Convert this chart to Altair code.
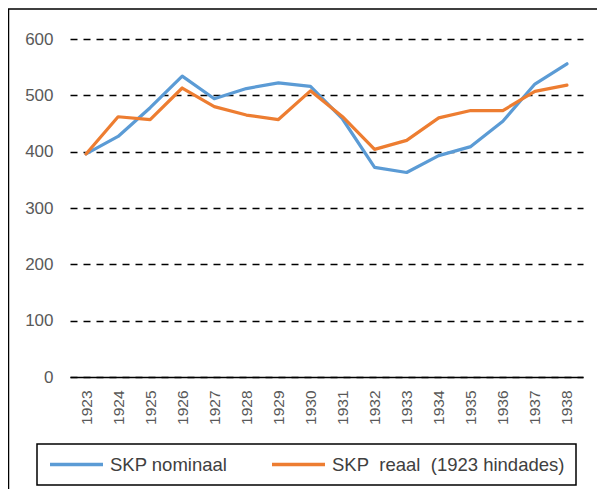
import altair as alt
import pandas as pd

years = [str(y) for y in range(1923, 1939)]
nominal = [396, 427, 478, 534, 494, 512, 522, 516, 458, 372, 363, 393, 409, 454, 520, 556]
real = [396, 462, 457, 513, 480, 465, 457, 508, 462, 404, 420, 460, 473, 473, 507, 518]
series_names = ["SKP nominaal", "SKP\u00a0 reaal\u00a0 (1923 hindades)"]
series_colors = ["#5B9BD5", "#ED7D31"]
y_ticks = [0, 100, 200, 300, 400, 500, 600]

rows = []
for i, yr in enumerate(years):
    rows.append({"year": yr, "series": series_names[0], "value": nominal[i], "order": 0})
    rows.append({"year": yr, "series": series_names[1], "value": real[i], "order": 1})
df = pd.DataFrame(rows)

FONT = "Liberation Sans"
GRAY = "#595959"

lines = alt.Chart(df).mark_line(strokeWidth=3.2, strokeCap="round", strokeJoin="round").encode(
    x=alt.X("year:O", sort=years, title=None,
            axis=alt.Axis(labelAngle=270, labelFontSize=15.5, labelColor=GRAY, labelFont=FONT,
                          labelPadding=13, ticks=False, tickSize=0, domainColor="black",
                          domainWidth=1.5, grid=False)),
    y=alt.Y("value:Q", title=None,
            scale=alt.Scale(domain=[0, 600], nice=False, zero=True),
            axis=alt.Axis(values=y_ticks, labelFontSize=17, labelColor=GRAY, labelFont=FONT,
                          labelPadding=17, ticks=False, tickSize=0, domain=False,
                          grid=True, gridColor="black", gridDash=[7, 6], gridWidth=1.5)),
    color=alt.Color("series:N", sort=series_names,
                    scale=alt.Scale(domain=series_names, range=series_colors),
                    legend=alt.Legend(title=None, orient="none", legendX=-33, legendY=405,
                                      direction="horizontal", symbolType="stroke",
                                      symbolSize=2809, symbolStrokeWidth=3.5,
                                      labelFontSize=18.5, labelColor="#404040", labelFont=FONT,
                                      labelOffset=5, columnPadding=42, padding=11,
                                      clipHeight=19,
                                      strokeColor="black", labelLimit=400)),
    order="order:Q",
)

frame = alt.Chart(alt.Data(values=[{}])).mark_rect(fill=None, stroke="black", strokeWidth=1.5).encode(
    x=alt.value(-61.5), x2=alt.value(700), y=alt.value(-30), y2=alt.value(600)
)

chart = alt.layer(frame, lines).properties(
    width=513, height=338,
    autosize=alt.AutoSizeParams(type="none"),
    padding={"left": 62, "top": 31, "right": 14, "bottom": 112},
).configure_view(stroke=None).configure_legend(strokeWidth=1.5)

chart.save("out.html", embed_options={"renderer": "svg", "actions": False})
